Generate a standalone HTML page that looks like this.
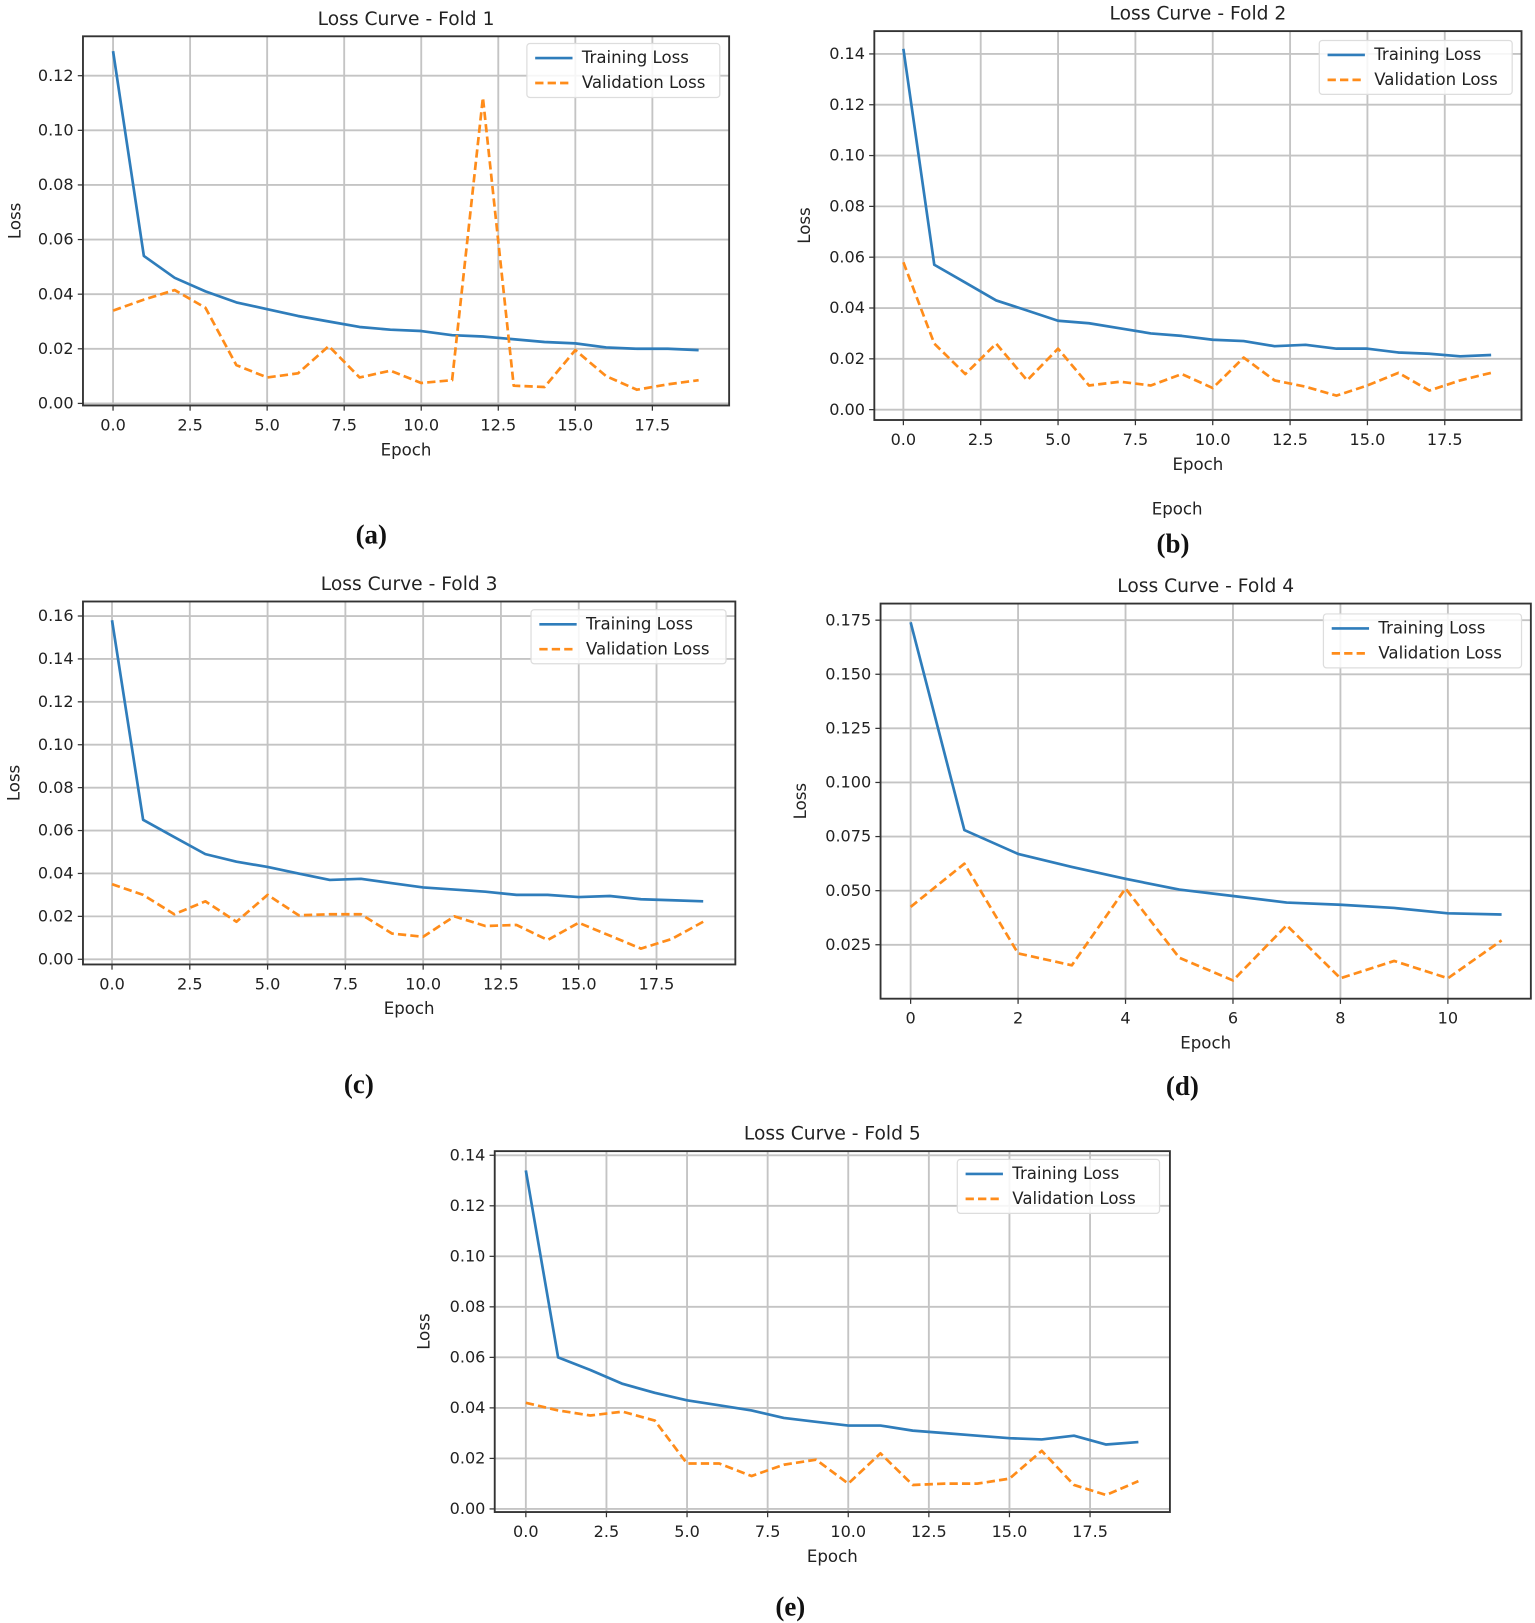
<!DOCTYPE html>
<html><head><meta charset="utf-8">
<style>
html,body{margin:0;padding:0;background:#fff;}
svg{display:block;}
text{font-family:"DejaVu Sans","Liberation Sans",sans-serif;fill:#222;}
.cap{font-family:"Liberation Serif",serif;font-weight:bold;font-size:26px;fill:#111;}
</style></head>
<body>
<svg id="fig" width="1535" height="1623" viewBox="0 0 1480 1565" preserveAspectRatio="none" xmlns="http://www.w3.org/2000/svg"></svg>
<script>
// Fold 1
const f1Epochs = [0,1,2,3,4,5,6,7,8,9,10,11,12,13,14,15,16,17,18,19];
const f1Train = [0.129,0.054,0.046,0.041,0.037,0.0345,0.032,0.030,0.028,0.027,0.0265,0.025,0.0245,0.0235,0.0225,0.022,0.0205,0.020,0.020,0.0195];
const f1Val = [0.034,0.038,0.0415,0.035,0.014,0.0095,0.011,0.021,0.0095,0.012,0.0075,0.0085,0.112,0.0065,0.006,0.0195,0.010,0.005,0.007,0.0085];
const f1YTicks = [0,0.02,0.04,0.06,0.08,0.10,0.12];
const f1XTicks = [0,2.5,5,7.5,10,12.5,15,17.5];
// Fold 2
const f2Epochs = [0,1,2,3,4,5,6,7,8,9,10,11,12,13,14,15,16,17,18,19];
const f2Train = [0.142,0.057,0.050,0.043,0.039,0.035,0.034,0.032,0.030,0.029,0.0275,0.027,0.025,0.0255,0.024,0.024,0.0225,0.022,0.021,0.0215];
const f2Val = [0.058,0.026,0.014,0.026,0.0115,0.024,0.0095,0.011,0.0095,0.014,0.0085,0.0205,0.0115,0.009,0.0055,0.0095,0.0145,0.0075,0.0115,0.0145];
const f2YTicks = [0,0.02,0.04,0.06,0.08,0.10,0.12,0.14];
const f2XTicks = [0,2.5,5,7.5,10,12.5,15,17.5];
// Fold 3
const f3Epochs = [0,1,2,3,4,5,6,7,8,9,10,11,12,13,14,15,16,17,18,19];
const f3Train = [0.158,0.065,0.057,0.049,0.0455,0.043,0.040,0.037,0.0375,0.0355,0.0335,0.0325,0.0315,0.030,0.030,0.029,0.0295,0.028,0.0275,0.027];
const f3Val = [0.035,0.030,0.021,0.027,0.0175,0.030,0.0205,0.021,0.021,0.012,0.0105,0.020,0.0155,0.016,0.009,0.017,0.011,0.005,0.0095,0.0175];
const f3YTicks = [0,0.02,0.04,0.06,0.08,0.10,0.12,0.14,0.16];
const f3XTicks = [0,2.5,5,7.5,10,12.5,15,17.5];
// Fold 4
const f4Epochs = [0,1,2,3,4,5,6,7,8,9,10,11];
const f4Train = [0.174,0.078,0.067,0.061,0.0555,0.0505,0.0475,0.0445,0.0435,0.042,0.0395,0.039];
const f4Val = [0.0425,0.0625,0.021,0.0155,0.051,0.019,0.0085,0.034,0.0095,0.0175,0.0095,0.027];
const f4YTicks = [0.025,0.05,0.075,0.1,0.125,0.15,0.175];
const f4XTicks = [0,2,4,6,8,10];
// Fold 5
const f5Epochs = [0,1,2,3,4,5,6,7,8,9,10,11,12,13,14,15,16,17,18,19];
const f5Train = [0.134,0.060,0.055,0.0495,0.046,0.043,0.041,0.039,0.036,0.0345,0.033,0.033,0.031,0.030,0.029,0.028,0.0275,0.029,0.0255,0.0265];
const f5Val = [0.042,0.039,0.037,0.0385,0.035,0.018,0.018,0.013,0.0175,0.0195,0.010,0.022,0.0095,0.010,0.010,0.012,0.023,0.0095,0.0055,0.011];
const f5YTicks = [0,0.02,0.04,0.06,0.08,0.10,0.12,0.14];
const f5XTicks = [0,2.5,5,7.5,10,12.5,15,17.5];

const NS="http://www.w3.org/2000/svg";
const fig=document.getElementById('fig');
function mk(tag,attrs,parent){const e=document.createElementNS(NS,tag);for(const k in attrs)e.setAttribute(k,attrs[k]);(parent||fig).appendChild(e);return e;}

function drawChart(cfg){
  const g=mk('g',{});
  
  
  const xS=v=>cfg.x0px+(v-0)*(cfg.x1px-cfg.x0px)/(cfg.x1v-0);
  const yS=v=>cfg.y0px+(v-cfg.y0v)*(cfg.y1px-cfg.y0px)/(cfg.y1v-cfg.y0v);
  cfg.xTicks.forEach(t=>{
    const l=mk('line',{x1:xS(t),x2:xS(t),y1:cfg.top,y2:cfg.bottom,stroke:'#c4c4c4','stroke-width':1.8},g);
    
    
    mk('line',{x1:xS(t),x2:xS(t),y1:cfg.bottom,y2:cfg.bottom+5,stroke:'#333','stroke-width':1.2},g);
    const tx=mk('text',{x:xS(t),y:cfg.bottom+24,'text-anchor':'middle','font-size':15.5},g);
    tx.textContent=cfg.xFmt(t);
    
    
  });
  cfg.yTicks.forEach(t=>{
    const l=mk('line',{x1:cfg.left,x2:cfg.right,y1:yS(t),y2:yS(t),stroke:'#c4c4c4','stroke-width':1.8},g);
    
    
    mk('line',{x1:cfg.left-5,x2:cfg.left,y1:yS(t),y2:yS(t),stroke:'#333','stroke-width':1.2},g);
    const tx=mk('text',{x:cfg.left-9,y:yS(t)+5,'text-anchor':'end','font-size':15.5},g);
    tx.textContent=t.toFixed(cfg.yDec);
    
    
  });
  const frame=mk('rect',{x:cfg.left,y:cfg.top,width:cfg.right-cfg.left,height:cfg.bottom-cfg.top,fill:'none',stroke:'#333','stroke-width':1.8},g);
  
  
  const pts=a=>a.map((v,i)=>xS(cfg.epochs[i]).toFixed(1)+','+yS(v).toFixed(1)).join(' ');
  const tl=mk('polyline',{points:pts(cfg.train),fill:'none',stroke:'#2f7dbb','stroke-width':2.6,'stroke-linejoin':'round'},g);
  
  
  const vl=mk('polyline',{points:pts(cfg.val),fill:'none',stroke:'#ff8c1a','stroke-width':2.6,'stroke-dasharray':'8,4','stroke-linejoin':'round'},g);
  
  
  const ti=mk('text',{x:(cfg.left+cfg.right)/2,y:cfg.top-11,'text-anchor':'middle','font-size':18},g);
  ti.textContent=cfg.title;
  
  
  const xl=mk('text',{x:(cfg.left+cfg.right)/2,y:cfg.bottom+48,'text-anchor':'middle','font-size':16},g);
  xl.textContent='Epoch';
  
  
  const yl=mk('text',{x:0,y:0,'text-anchor':'middle','font-size':16,transform:`translate(${cfg.yLabX},${(cfg.top+cfg.bottom)/2}) rotate(-90)`},g);
  yl.textContent='Loss';
  
  
  const L=cfg.legend;
  const lg=mk('g',{},g);
  
  
  mk('rect',{x:L.x,y:L.y,width:L.w,height:52,fill:'#fff','fill-opacity':0.85,stroke:'#ddd','stroke-width':1.2,rx:3},lg);
  mk('line',{x1:L.x+8,x2:L.x+44,y1:L.y+14,y2:L.y+14,stroke:'#2f7dbb','stroke-width':2.6},lg);
  mk('line',{x1:L.x+8,x2:L.x+44,y1:L.y+38,y2:L.y+38,stroke:'#ff8c1a','stroke-width':2.6,'stroke-dasharray':'8,4'},lg);
  const e1=mk('text',{x:L.x+53,y:L.y+19,'font-size':16},lg);e1.textContent='Training Loss';
  
  
  const e2=mk('text',{x:L.x+53,y:L.y+43,'font-size':16},lg);e2.textContent='Validation Loss';
  
  
  const c=mk('text',{x:cfg.cap[0],y:cfg.cap[1],'text-anchor':'middle',class:'cap'});
  c.textContent=cfg.capText;
  
  
}
const f1d=v=>v.toFixed(1);
const fi=v=>String(v);

drawChart({name:'fold-1-chart',title:'Loss Curve - Fold 1',epochs:f1Epochs,train:f1Train,val:f1Val,xTicks:f1XTicks,yTicks:f1YTicks,xFmt:f1d,yDec:2,
 left:80,right:703,top:35,bottom:391,x0px:109,x1px:629,x1v:17.5,y0px:389,y0v:0,y1px:73,y1v:0.12,yLabX:20,
 legend:{x:508,y:42,w:186},cap:[358,524],capText:'(a)'});
drawChart({name:'fold-2-chart',title:'Loss Curve - Fold 2',epochs:f2Epochs,train:f2Train,val:f2Val,xTicks:f2XTicks,yTicks:f2YTicks,xFmt:f1d,yDec:2,
 left:843,right:1467,top:30,bottom:405,x0px:871,x1px:1393,x1v:17.5,y0px:395,y0v:0,y1px:52,y1v:0.14,yLabX:781,
 legend:{x:1272,y:39,w:186},cap:[1131,533],capText:'(b)'});
drawChart({name:'fold-3-chart',title:'Loss Curve - Fold 3',epochs:f3Epochs,train:f3Train,val:f3Val,xTicks:f3XTicks,yTicks:f3YTicks,xFmt:f1d,yDec:2,
 left:80,right:709,top:580,bottom:930,x0px:108,x1px:633,x1v:17.5,y0px:925,y0v:0,y1px:594,y1v:0.16,yLabX:19,
 legend:{x:512,y:588,w:188},cap:[346,1054],capText:'(c)'});
drawChart({name:'fold-4-chart',title:'Loss Curve - Fold 4',epochs:f4Epochs,train:f4Train,val:f4Val,xTicks:f4XTicks,yTicks:f4YTicks,xFmt:fi,yDec:3,
 left:849,right:1476,top:582,bottom:963,x0px:878,x1px:1396,x1v:10,y0px:911,y0v:0.025,y1px:598,y1v:0.175,yLabX:777,
 legend:{x:1276,y:592,w:191},cap:[1140,1056],capText:'(d)'});
drawChart({name:'fold-5-chart',title:'Loss Curve - Fold 5',epochs:f5Epochs,train:f5Train,val:f5Val,xTicks:f5XTicks,yTicks:f5YTicks,xFmt:f1d,yDec:2,
 left:477,right:1128,top:1110,bottom:1458,x0px:507,x1px:1051,x1v:17.5,y0px:1455,y0v:0,y1px:1114,y1v:0.14,yLabX:414,
 legend:{x:923,y:1118,w:195},cap:[762,1558],capText:'(e)'});

const ghost=mk('text',{x:1135,y:496,'text-anchor':'middle','font-size':16});
ghost.textContent='Epoch';


</script>
</body></html>
